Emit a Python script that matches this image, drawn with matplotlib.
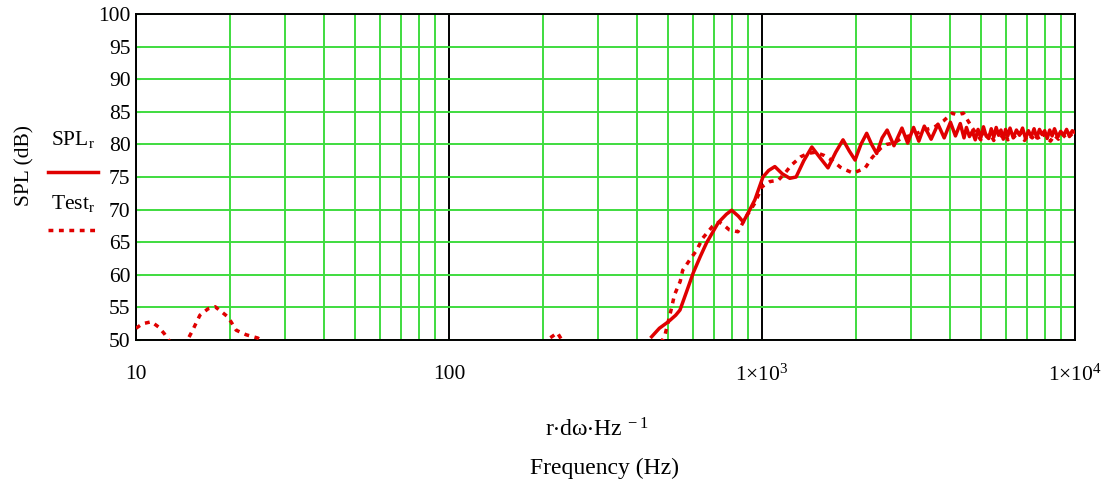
import numpy as np
import matplotlib
matplotlib.use("Agg")
import matplotlib.pyplot as plt
from matplotlib.ticker import FixedLocator, NullFormatter

plt.rcParams['font.family'] = ['Liberation Serif', 'DejaVu Serif']
plt.rcParams['mathtext.fontset'] = 'custom'
plt.rcParams['mathtext.rm'] = 'Liberation Serif'
plt.rcParams['mathtext.it'] = 'Liberation Serif:italic'

RED = '#e00000'
GRID = '#3fdc3f'

# SPL_r : model response (solid)
spl_f = [444, 470, 502, 530, 547, 575, 603, 635, 665, 725, 770, 800, 840, 871,
         910, 949, 1007, 1050, 1099, 1160, 1227, 1285, 1360, 1443, 1530, 1625,
         1720, 1815, 1900, 1983, 2070, 2160, 2240, 2325, 2420, 2511, 2640, 2800,
         2920, 3050, 3170, 3300, 3470, 3650, 3820, 4000, 4150, 4300, 4420, 4500,
         4600, 4700, 4800, 4900, 5000, 5100, 5200, 5300, 5400, 5500, 5600, 5700,
         5800, 5900, 6000, 6100, 6200, 6350, 6500, 6650, 6800, 6950, 7100, 7250,
         7400, 7550, 7700, 7850, 8000, 8150, 8300, 8450, 8600, 8800, 9000, 9200,
         9400, 9600, 9800, 10000]
spl_db = [50.5, 51.8, 52.8, 53.8, 54.6, 57.5, 60.3, 62.8, 64.9, 68.0, 69.3, 69.9,
          69.0, 68.1, 69.8, 71.5, 75.0, 76.0, 76.6, 75.5, 74.8, 75.0, 77.5, 79.6,
          78.0, 76.4, 78.8, 80.7, 79.0, 77.6, 80.0, 81.7, 80.0, 78.6, 81.0, 82.2,
          79.8, 82.5, 80.2, 82.6, 80.5, 82.8, 80.8, 83.1, 81.0, 83.4, 81.3, 83.2,
          81.0, 82.6, 81.2, 82.0, 80.7, 82.3, 81.0, 82.7, 81.3, 80.9, 82.4, 81.1,
          82.6, 81.4, 82.2, 80.8, 82.3, 81.3, 82.5, 81.0, 82.2, 81.4, 82.5, 80.9,
          82.1, 81.2, 82.4, 81.0, 82.3, 81.5, 82.1, 80.9, 82.2, 81.3, 82.4, 81.1,
          82.0, 81.4, 82.3, 81.2, 82.1, 81.8]

# Test_r : measured response (dashed)
test_f = [10.0, 10.5, 11.2, 11.8, 12.3, 12.8, 13.5, 14.6, 15.1, 16.0, 17.0, 17.9,
          18.8, 19.7, 20.9, 22.5, 24.5, 26.0, 30, 60, 120, 190, 205, 213, 222,
          228, 240, 300, 400, 470, 490, 514, 525, 548, 558, 588, 619, 646, 694,
          730, 760, 786, 838, 890, 949, 1000, 1060, 1127, 1180, 1240, 1330, 1400,
          1480, 1580, 1680, 1780, 1850, 1955, 2050, 2137, 2250, 2393, 2500, 2640,
          2800, 2950, 3130, 3300, 3540, 3800, 4050, 4200, 4400, 4700, 5000, 5100,
          5200, 5350, 5500, 5650, 5800, 5950, 6100, 6300, 6500, 6700, 6900, 7100,
          7300, 7500, 7700, 7900, 8100, 8350, 8600, 8850, 9100, 9350, 9600, 9800,
          10000]
test_db = [51.8, 52.5, 52.8, 52.0, 51.0, 49.8, 48.5, 50.0, 51.3, 53.8, 54.8, 55.1,
           54.3, 53.5, 51.5, 50.8, 50.3, 49.5, 44, 40, 42, 47, 50.0, 50.5, 51.1,
           50.2, 48, 44, 46, 49, 50.8, 54.9, 56.9, 59.0, 60.7, 62.3, 63.8, 65.6,
           67.4, 68.1, 67.5, 66.9, 66.6, 68.9, 71.0, 73.5, 74.3, 74.5, 75.5, 76.8,
           78.1, 78.6, 78.8, 78.3, 77.5, 76.5, 76.1, 75.6, 76.0, 76.4, 78.0, 79.4,
           80.0, 80.2, 81.0, 81.3, 81.7, 82.2, 82.6, 83.6, 84.8, 84.5, 84.8, 82.5,
           80.7, 81.9, 80.8, 81.7, 80.6, 82.0, 81.0, 81.8, 80.7, 81.5, 80.9, 81.8,
           80.6, 81.5, 81.0, 81.7, 80.7, 81.6, 81.1, 80.5, 81.4, 80.8, 81.6, 81.0,
           81.7, 81.2, 81.5]

y_ticks = [50, 55, 60, 65, 70, 75, 80, 85, 90, 95, 100]
x_major = [10, 100, 1000, 10000]
x_labels = ['10', '100', r'$\mathregular{1{\times}10^{3}}$', r'$\mathregular{1{\times}10^{4}}$']

fig = plt.figure(figsize=(11.16, 4.87), dpi=100)
ax = fig.add_axes([136/1116, 1-340/487, (1075-136)/1116, (340-14)/487])

ax.plot(spl_f, spl_db, color=RED, lw=2.5, zorder=3)
ax.plot(test_f, test_db, color=RED, lw=2.5, dashes=(1.4, 1.6), zorder=4)

ax.set_xscale('log')
ax.set_xlim(10, 10000)
ax.set_ylim(50, 100)

minor = [m * 10**e for e in range(1, 4) for m in range(2, 10)]
ax.xaxis.set_major_locator(FixedLocator(x_major))
ax.xaxis.set_minor_locator(FixedLocator(minor))
ax.xaxis.set_minor_formatter(NullFormatter())
ax.set_xticklabels(x_labels)
ax.set_yticks(y_ticks)

ax.set_axisbelow(True)
ax.grid(which='major', axis='y', color=GRID, lw=1.4)
ax.grid(which='minor', axis='x', color=GRID, lw=1.4)
ax.grid(which='major', axis='x', color='black', lw=1.4)

ax.tick_params(axis='x', which='both', length=0, pad=18, labelsize=15.5)
ax.tick_params(axis='y', length=3, direction='in', color=GRID, pad=4, labelsize=15.5)
for s in ax.spines.values():
    s.set_color('black')
    s.set_linewidth(1.4)

# left-hand legend and labels
fig.text(25/1116, 1-165/487, 'SPL (dB)', rotation=90, ha='center', va='center', fontsize=15.5)
fig.text(73/1116, 1-140/487, r'$\mathregular{SPL_{r}}$', ha='center', va='center', fontsize=15.5)
fig.add_artist(plt.Line2D([48/1116, 98/1116], [1-172/487]*2, color=RED, lw=2.5))
fig.text(73/1116, 1-203/487, r'$\mathregular{Test_{r}}$', ha='center', va='center', fontsize=15.5)
fig.add_artist(plt.Line2D([48/1116, 98/1116], [1-230/487]*2, color=RED, lw=2.5,
                          dashes=(1.4, 1.6)))

fig.text(597/1116, 1-430/487, r'$\mathregular{r{\cdot}d\omega{\cdot}Hz^{\ -1}}$',
         ha='center', va='center', fontsize=17)
fig.text(605/1116, 1-468/487, 'Frequency (Hz)', ha='center', va='center', fontsize=17)

fig.savefig('out.png', dpi=100)
